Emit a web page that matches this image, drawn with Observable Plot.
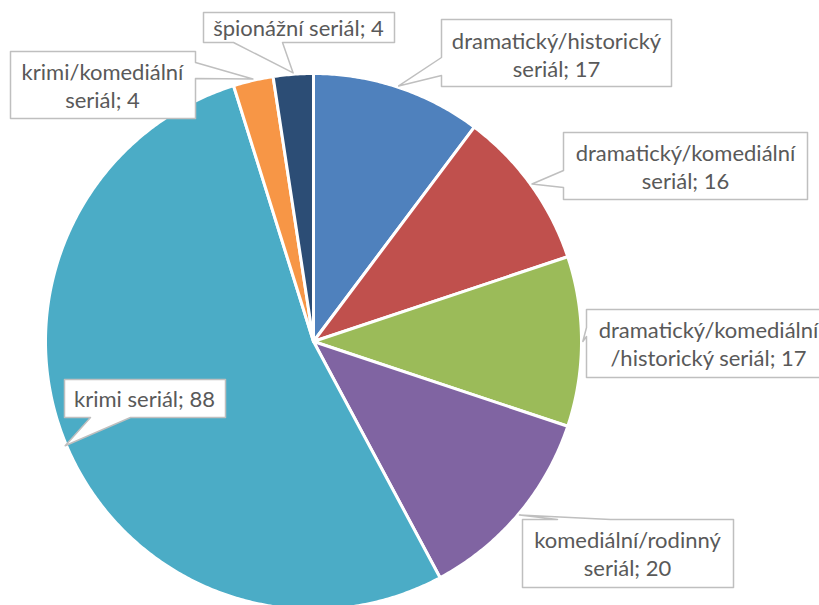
<!DOCTYPE html>
<html>
<head>
<meta charset="utf-8">
<script src="https://cdn.jsdelivr.net/npm/d3@7"></script>
<script src="https://cdn.jsdelivr.net/npm/@observablehq/plot@0.6"></script>
<style>
  html, body { margin: 0; padding: 0; background: white; }
  #chart svg { display: block; }
</style>
</head>
<body>
<div id="chart"></div>
<script>
// ---- data ----
const categories = [
  "dramatický/historický\nseriál",
  "dramatický/komediální\nseriál",
  "dramatický/komediální\n/historický seriál",
  "komediální/rodinný\nseriál",
  "krimi seriál",
  "krimi/komediální\nseriál",
  "špionážní seriál"
];
const values = [17, 16, 17, 20, 88, 4, 4];
const colors = ["#4F81BD", "#C0504D", "#9BBB59", "#8064A2", "#4BACC6", "#F79646", "#2C4D75"];

// ---- layout (pixels) ----
const W = 819, H = 605;
const CX = 313, CY = 341, R = 268;
// label boxes [x0, y0, x1, y1], wedge side and base along that side, text centre
const boxes = [
  {box: [441, 19, 671, 86],  side: "left",   base: [57, 75],   text: [556, 54]},
  {box: [563, 132, 807, 199], side: "left",  base: [170, 187], text: [685, 166]},
  {box: [586, 309, 830, 377], side: "left",  base: [327, 336], text: [708, 343]},
  {box: [522, 519, 733, 587], side: "top",   base: [557, 610], text: [627, 553]},
  {box: [64, 379, 225, 417],  side: "bottom", base: [90, 130], text: [144, 398]},
  {box: [10, 51, 195, 118],   side: "right", base: [62, 78],   text: [102, 85]},
  {box: [203, 12, 394, 42],   side: "bottom", base: [233, 282], text: [298, 27]}
];

const ux = px => (px - CX) / R;
const uy = py => (CY - py) / R;

// ---- slices ----
const total = d3.sum(values);
let acc = 0;
const slices = values.map((v, i) => {
  const a0 = acc / total * 2 * Math.PI;
  acc += v;
  const a1 = acc / total * 2 * Math.PI;
  return {i, cat: categories[i], v, a0, a1, mid: (a0 + a1) / 2};
});
const slicePts = [];
for (const s of slices) {
  slicePts.push({cat: s.cat, x: 0, y: 0});
  const n = Math.max(2, Math.ceil((s.a1 - s.a0) / (Math.PI / 360)));
  for (let k = 0; k <= n; k++) {
    const a = s.a0 + (s.a1 - s.a0) * k / n;
    slicePts.push({cat: s.cat, x: Math.sin(a), y: Math.cos(a)});
  }
}

// ---- callouts ----
const calloutPts = [];
const labelData = [];
slices.forEach((s, i) => {
  const L = boxes[i];
  const [x0, y0, x1, y1] = L.box;
  const tip = {x: Math.sin(s.mid) * 1.005, y: Math.cos(s.mid) * 1.005};
  const [a, b] = L.base;
  const pts = [];
  const P = (px, py) => pts.push({i, x: ux(px), y: uy(py)});
  const T = () => pts.push({i, x: tip.x, y: tip.y});
  P(x0, y0);
  if (L.side === "top") { P(a, y0); T(); P(b, y0); }
  P(x1, y0);
  if (L.side === "right") { P(x1, a); T(); P(x1, b); }
  P(x1, y1);
  if (L.side === "bottom") { P(b, y1); T(); P(a, y1); }
  P(x0, y1);
  if (L.side === "left") { P(x0, b); T(); P(x0, a); }
  calloutPts.push(...pts);
  labelData.push({x: ux(L.text[0]), y: uy(L.text[1]), label: `${s.cat}; ${s.v}`});
});

const chart = Plot.plot({
  width: W,
  height: H,
  margin: 0,
  x: {domain: [ux(0), ux(W)], range: [0, W], axis: null},
  y: {domain: [uy(H), uy(0)], range: [H, 0], axis: null},
  color: {domain: categories, range: colors},
  style: {background: "white", fontFamily: "Lato, 'Open Sans', sans-serif"},
  marks: [
    Plot.line(slicePts, {x: "x", y: "y", z: "cat", fill: "cat", stroke: "white", strokeWidth: 3, curve: "linear-closed"}),
    Plot.line(calloutPts, {x: "x", y: "y", z: "i", fill: "white", stroke: "#BFBFBF", strokeWidth: 1.5, curve: "linear-closed"}),
    Plot.text(labelData, {x: "x", y: "y", text: "label", fill: "#595959", fontSize: 22, lineHeight: 1.27, fontFamily: "Lato, 'Open Sans', sans-serif"})
  ]
});
document.getElementById("chart").appendChild(chart);
</script>
</body>
</html>
